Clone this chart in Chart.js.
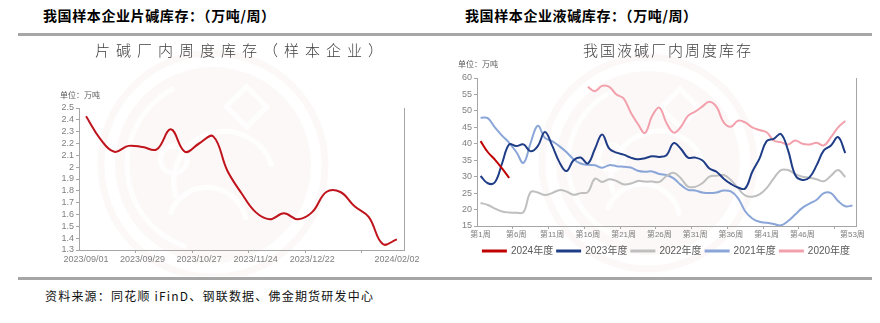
<!DOCTYPE html>
<html>
<head>
<meta charset="utf-8">
<script src="https://cdn.jsdelivr.net/npm/chart.js@4.4.1/dist/chart.umd.min.js"></script>
<style>
  body { margin: 0; width: 880px; height: 323px; background: #fff; position: relative; overflow: hidden;
         font-family: 'Noto Sans CJK SC', sans-serif; }
  .abs { position: absolute; white-space: nowrap; line-height: 1; }
  .head { top: 8px; font-size: 14px; font-weight: bold; color: #000; letter-spacing: 0.6px; }
  .rule { position: absolute; left: 18px; width: 854px; height: 3px; background: #a6a6a6; }
  .ctitle { top: 42px; font-size: 15px; color: #404040; font-weight: 300; }
  .unit { font-size: 8px; color: #595959; }
  .src { left: 45px; top: 290px; font-size: 12px; color: #111; letter-spacing: 1.2px; }
  canvas { position: absolute; top: 37px; }
</style>
</head>
<body>
<div class="abs head" style="left:43px">我国样本企业片碱库存：（万吨/周）</div>
<div class="abs head" style="left:465px">我国样本企业液碱库存：（万吨/周）</div>
<div class="rule" style="top:33px"></div>

<canvas id="flake" width="422" height="239" style="left:18px"></canvas>
<canvas id="liquid" width="432" height="239" style="left:440px"></canvas>

<div class="abs ctitle" style="left:95px;letter-spacing:6px">片碱厂内周度库存（样本企业）</div>
<div class="abs ctitle" style="left:583px;letter-spacing:2px">我国液碱厂内周度库存</div>
<div class="abs unit" style="left:60px;top:91px">单位：万吨</div>
<div class="abs unit" style="left:458px;top:60px">单位：万吨</div>

<div class="rule" style="top:277px"></div>
<div class="abs src">资料来源：同花顺 iFinD、钢联数据、佛金期货研发中心</div>

<script>
// 片碱：周度库存（万吨）
const flakeDates = [
  '2023/09/01', '2023/09/08', '2023/09/15', '2023/09/22', '2023/09/29', '2023/10/06',
  '2023/10/13', '2023/10/20', '2023/10/27', '2023/11/03', '2023/11/10', '2023/11/17',
  '2023/11/24', '2023/12/01', '2023/12/08', '2023/12/15', '2023/12/22', '2023/12/29',
  '2024/01/05', '2024/01/12', '2024/01/19', '2024/01/26', '2024/02/02'
];
const flakeStock = [2.43, 2.24, 2.13, 2.18, 2.17, 2.15, 2.32, 2.13, 2.20, 2.26, 1.97, 1.78,
                    1.62, 1.56, 1.61, 1.56, 1.62, 1.79, 1.79, 1.67, 1.58, 1.35, 1.39];
const flakeDateLabels = ['2023/09/01', '2023/09/29', '2023/10/27', '2023/11/24', '2023/12/22', '2024/02/02'];

// 液碱：分年度周度库存（万吨）
const weeks = [
  '第1周', '第2周', '第3周', '第4周', '第5周', '第6周', '第7周', '第8周', '第9周', '第10周',
  '第11周', '第12周', '第13周', '第14周', '第15周', '第16周', '第17周', '第18周', '第19周', '第20周',
  '第21周', '第22周', '第23周', '第24周', '第25周', '第26周', '第27周', '第28周', '第29周', '第30周',
  '第31周', '第32周', '第33周', '第34周', '第35周', '第36周', '第37周', '第38周', '第39周', '第40周',
  '第41周', '第42周', '第43周', '第44周', '第45周', '第46周', '第47周', '第48周', '第49周', '第50周',
  '第51周', '第52周', '第53周'
];
const weekLabels = ['第1周', '第6周', '第11周', '第16周', '第21周', '第26周', '第31周', '第36周', '第41周', '第46周', '第53周'];
const years = ['2024年度', '2023年度', '2022年度', '2021年度', '2020年度'];

const stock2024 = [40.8, 37.5, 35.2, 32.5, 29.6];
const stock2023 = [30.2, 28.0, 28.3, 34.0, 39.8, 39.3, 39.8, 37.7, 39.3, 43.6, 39.5, 34.5,
                   31.7, 35.0, 35.8, 34.0, 38.5, 42.8, 38.5, 37.3, 36.7, 35.8, 35.3, 35.6,
                   36.2, 36.0, 36.5, 40.2, 38.5, 35.8, 35.8, 35.0, 32.5, 31.5, 29.4, 27.8,
                   26.7, 26.4, 31.5, 35.5, 40.8, 41.5, 43.0, 38.0, 30.5, 29.0, 29.8, 33.5,
                   38.0, 39.5, 42.0, 37.2];
const stock2022 = [22.0, 21.4, 20.3, 19.4, 19.1, 19.0, 19.2, 25.3, 25.2, 24.4, 25.0, 25.9,
                   25.5, 24.5, 25.0, 25.3, 29.4, 28.4, 29.2, 28.7, 27.7, 27.9, 28.7, 28.5,
                   28.5, 28.4, 30.2, 31.2, 29.5, 27.0, 26.9, 28.0, 30.0, 30.3, 30.5, 29.0,
                   26.5, 24.3, 23.9, 24.6, 26.5, 29.5, 32.0, 32.0, 30.8, 30.0, 29.7, 29.2,
                   28.6, 30.3, 32.0, 29.9];
const stock2021 = [47.9, 47.8, 45.0, 42.5, 40.3, 37.5, 34.2, 40.3, 45.5, 41.8, 40.8, 39.3,
                   37.5, 35.3, 34.0, 33.6, 33.5, 32.7, 33.5, 33.2, 33.0, 32.8, 31.8, 31.5,
                   31.6, 30.8, 30.5, 29.5, 27.5, 26.0, 25.8, 25.2, 25.0, 25.2, 25.8, 25.5,
                   23.5, 19.5, 17.3, 16.3, 16.0, 15.6, 15.2, 16.5, 18.5, 20.5, 21.8, 23.0,
                   25.0, 25.0, 22.6, 21.0, 21.2];
const stock2020 = [null, null, null, null, null, null, null, null, null, null, null, null,
                   null, null, null, 57.3, 56.0, 57.6, 57.3, 55.0, 53.8, 49.5, 46.0, 43.3,
                   48.5, 51.0, 46.3, 43.4, 45.1, 48.5, 49.8, 51.3, 52.8, 51.2, 46.5, 45.2,
                   47.0, 46.5, 45.0, 44.2, 43.5, 41.0, 40.5, 39.8, 41.0, 40.0, 39.8, 40.3,
                   39.5, 42.0, 45.0, 46.9];

const yearColors = ['#c00000', '#1f3d86', '#bfbfbf', '#8aa6d8', '#f2a0ac'];
const axisGrey = '#a6a6a6';

Chart.defaults.font.family = "'Liberation Sans', 'Noto Sans CJK SC', sans-serif";
Chart.defaults.color = '#7f7f7f';
Chart.defaults.animation = false;

// faint round seal behind the plot
const seal = {
  id: 'seal',
  beforeDraw(chart, args, opts) {
    const { ctx } = chart;
    const { x, y, r } = opts;
    ctx.save();
    ctx.strokeStyle = 'rgba(190,120,120,0.05)';
    ctx.lineWidth = 7;
    ctx.beginPath(); ctx.arc(x, y, r, 0, Math.PI * 2); ctx.stroke();
    ctx.fillStyle = 'rgba(190,120,120,0.05)';
    ctx.beginPath(); ctx.arc(x, y, r - 14, 0, Math.PI * 2); ctx.fill();
    ctx.strokeStyle = 'rgba(255,255,255,0.85)';
    ctx.lineWidth = 5;
    ctx.beginPath(); ctx.arc(x, y, r - 26, Math.PI * 0.6, Math.PI * 1.35); ctx.stroke();
    ctx.beginPath(); ctx.arc(x + r * 0.1, y + r * 0.15, r * 0.45, Math.PI * 0.9, Math.PI * 1.9); ctx.stroke();
    ctx.beginPath(); ctx.arc(x - r * 0.05, y + r * 0.55, r * 0.35, Math.PI * 1.1, Math.PI * 1.95); ctx.stroke();
    ctx.beginPath();
    ctx.moveTo(x + r * 0.3, y - r * 0.7); ctx.lineTo(x + r * 0.48, y - r * 0.52);
    ctx.lineTo(x + r * 0.3, y - r * 0.34); ctx.lineTo(x + r * 0.12, y - r * 0.52); ctx.closePath();
    ctx.stroke();
    ctx.beginPath(); ctx.arc(x - r * 0.35, y - r * 0.05, r * 0.12, 0, Math.PI * 2); ctx.stroke();
    ctx.restore();
  }
};

// right-hand edge of the plot frame
const frameEdge = {
  id: 'frameEdge',
  afterDraw(chart) {
    const { ctx, chartArea: a } = chart;
    const xr = Math.round(a.right) + 0.5;
    ctx.save();
    ctx.strokeStyle = axisGrey;
    ctx.lineWidth = 1;
    ctx.beginPath(); ctx.moveTo(xr, a.top); ctx.lineTo(xr, a.bottom); ctx.stroke();
    ctx.restore();
  }
};

function markEvery(step, count) {
  return ctx => (ctx.index > 0 && ctx.index < count && ctx.index % step === 0) ? axisGrey : 'rgba(0,0,0,0)';
}

new Chart(document.getElementById('flake'), {
  type: 'line',
  data: {
    labels: flakeDates,
    datasets: [{ data: flakeStock, borderColor: '#c0141c', borderWidth: 2, pointRadius: 0, tension: 0.4 }]
  },
  options: {
    responsive: false,
    layout: { padding: { left: 0, right: 36, top: 71, bottom: 0 } },
    plugins: { legend: { display: false }, tooltip: { enabled: false }, seal: { x: 195, y: 128, r: 112 } },
    scales: {
      x: {
        offset: true,
        afterFit: s => { s.height = 26; },
        border: { color: axisGrey },
        grid: { offset: true, drawOnChartArea: false, tickLength: 3, tickColor: markEvery(4, flakeDates.length) },
        ticks: {
          autoSkip: false, maxRotation: 0, padding: 1, font: { size: 9 },
          callback: (v, i) => flakeDateLabels.includes(flakeDates[i]) ? flakeDates[i] : ''
        }
      },
      y: {
        min: 1.3, max: 2.5,
        afterFit: s => { s.width = 61; },
        border: { color: axisGrey },
        grid: { drawOnChartArea: false, tickLength: 3, color: axisGrey },
        ticks: { stepSize: 0.1, autoSkip: false, padding: 2, font: { size: 9 }, callback: v => String(+v.toFixed(1)) }
      }
    }
  },
  plugins: [seal, frameEdge]
});

const yearSeries = [stock2024, stock2023, stock2022, stock2021, stock2020];

new Chart(document.getElementById('liquid'), {
  type: 'line',
  data: {
    labels: weeks,
    datasets: yearSeries.map((s, k) => ({
      label: years[k], data: s,
      borderColor: yearColors[k], backgroundColor: yearColors[k],
      borderWidth: 2, pointRadius: 0, tension: 0.4
    }))
  },
  options: {
    responsive: false,
    layout: { padding: { left: 0, right: 16, top: 41, bottom: 10 } },
    plugins: {
      tooltip: { enabled: false },
      seal: { x: 208, y: 126, r: 106 },
      legend: {
        position: 'bottom', fullSize: false,
        labels: { boxWidth: 23, boxHeight: 1, padding: 4, color: '#595959',
                  font: { size: 10, family: "'Liberation Sans', 'Noto Sans CJK SC', sans-serif" } }
      }
    },
    scales: {
      x: {
        offset: true,
        afterFit: s => { s.height = 16; },
        border: { color: axisGrey },
        grid: { offset: true, drawOnChartArea: false, tickLength: 3, tickColor: markEvery(5, weeks.length) },
        ticks: {
          autoSkip: false, maxRotation: 0, padding: 1, font: { size: 8 },
          callback: (v, i) => weekLabels.includes(weeks[i]) ? weeks[i] : ''
        }
      },
      y: {
        min: 15, max: 60,
        afterFit: s => { s.width = 37; },
        border: { color: axisGrey },
        grid: { drawOnChartArea: false, tickLength: 3, color: axisGrey },
        ticks: { stepSize: 5, autoSkip: false, padding: 2, font: { size: 9 } }
      }
    }
  },
  plugins: [seal, frameEdge]
});
</script>
</body>
</html>
